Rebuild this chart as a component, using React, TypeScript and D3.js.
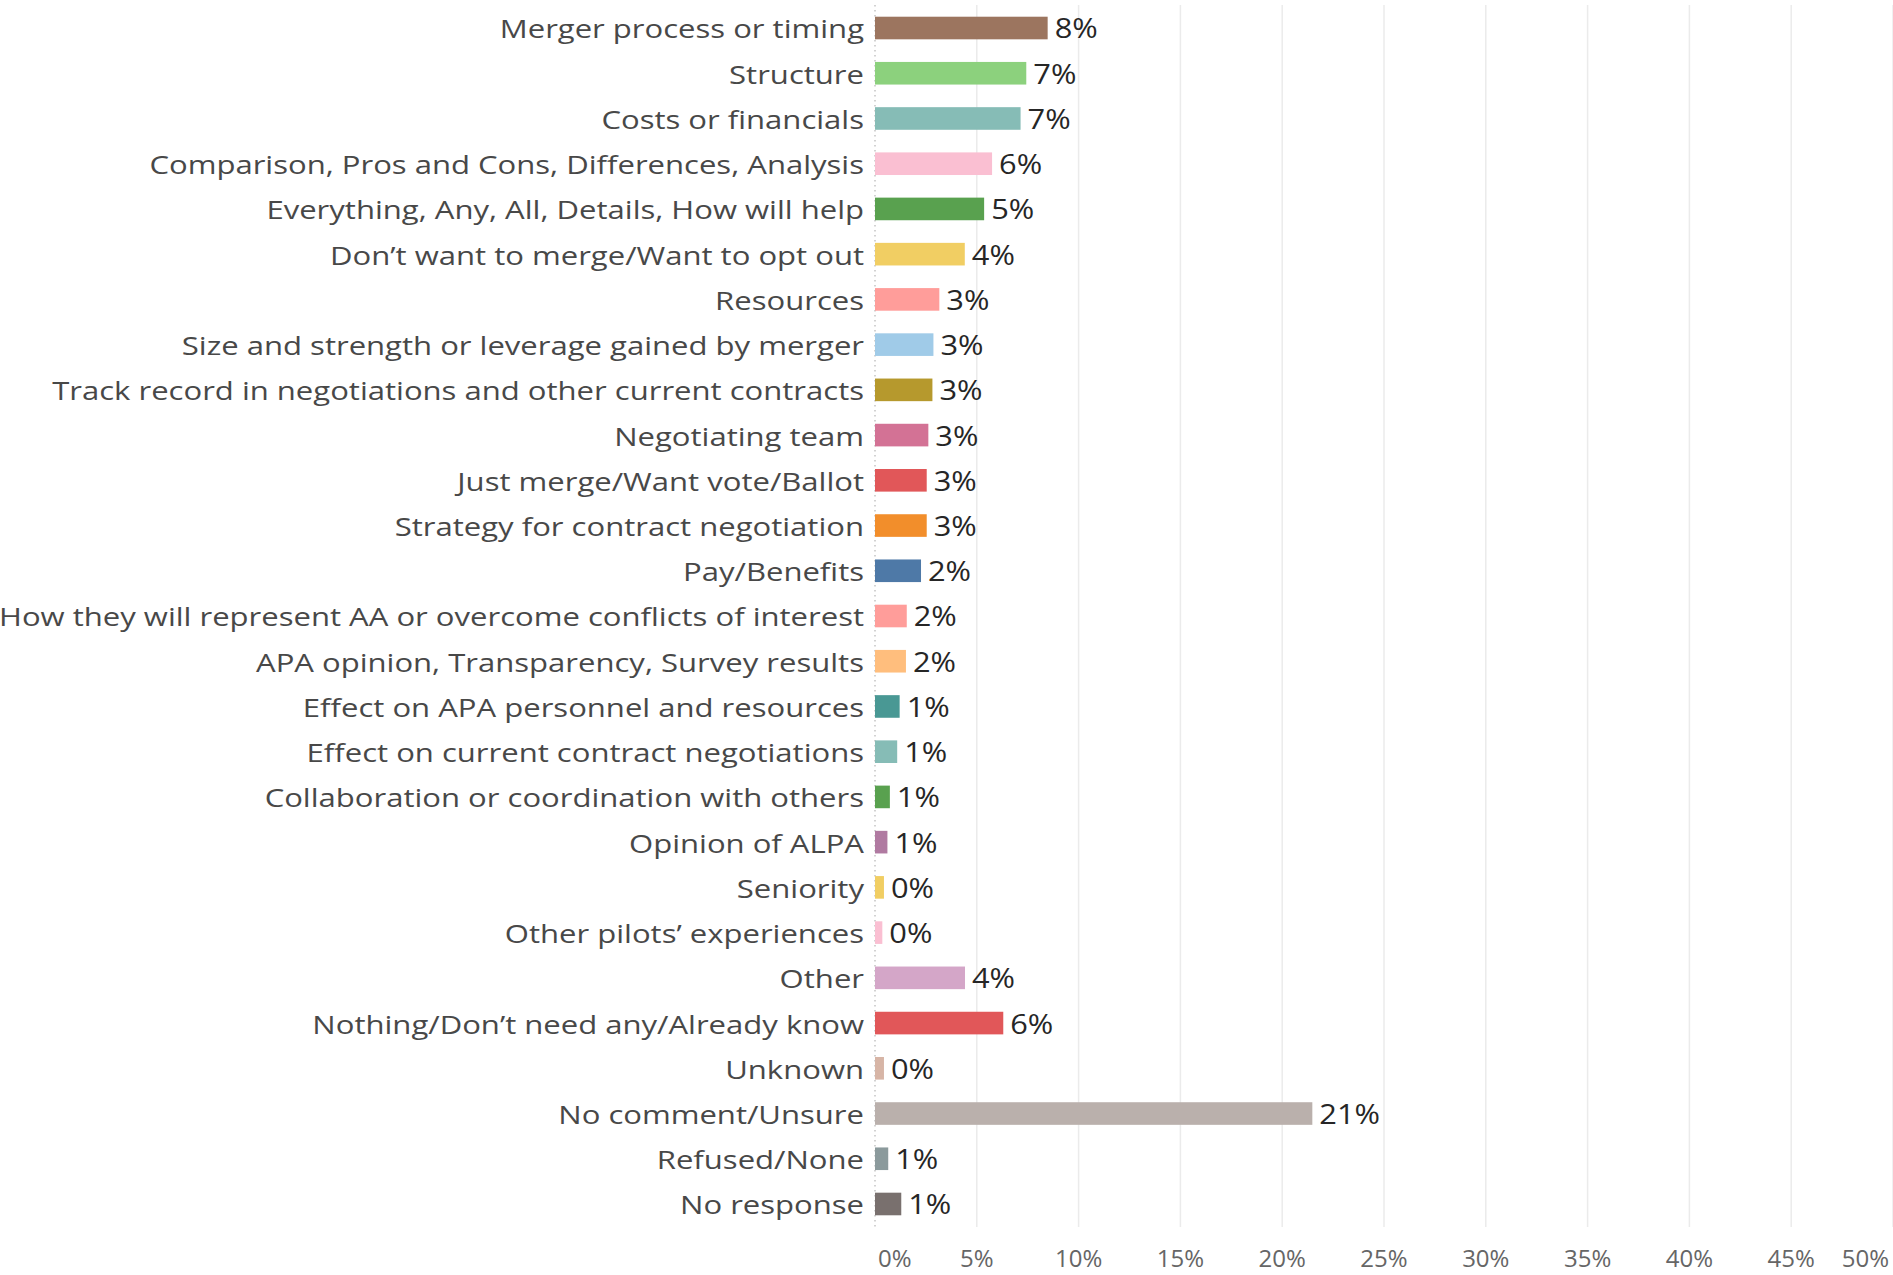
import React, { useEffect } from "react";
import * as d3 from "d3";

const categories = [
  "Merger process or timing",
  "Structure",
  "Costs or financials",
  "Comparison, Pros and Cons, Differences, Analysis",
  "Everything, Any, All, Details, How will help",
  "Don\u2019t want to merge/Want to opt out",
  "Resources",
  "Size and strength or leverage gained by merger",
  "Track record in negotiations and other current contracts",
  "Negotiating team",
  "Just merge/Want vote/Ballot",
  "Strategy for contract negotiation",
  "Pay/Benefits",
  "How they will represent AA or overcome conflicts of interest",
  "APA opinion, Transparency, Survey results",
  "Effect on APA personnel and resources",
  "Effect on current contract negotiations",
  "Collaboration or coordination with others",
  "Opinion of ALPA",
  "Seniority",
  "Other pilots\u2019 experiences",
  "Other",
  "Nothing/Don\u2019t need any/Already know",
  "Unknown",
  "No comment/Unsure",
  "Refused/None",
  "No response",
];

// percent values
const values = [
  8.48, 7.43, 7.15, 5.75, 5.36, 4.41, 3.16, 2.87, 2.82, 2.62, 2.54, 2.54, 2.26,
  1.56, 1.52, 1.21, 1.09, 0.73, 0.61, 0.44, 0.36, 4.42, 6.3, 0.44, 21.48, 0.65,
  1.29,
];

const colors = [
  "#9c755f", "#8cd17d", "#86bcb6", "#fabfd2", "#59a14f", "#f1ce63", "#ff9d9a",
  "#a0cbe8", "#b6992d", "#d37295", "#e15759", "#f28e2b", "#4e79a7", "#ff9d9a",
  "#ffbe7d", "#499894", "#86bcb6", "#59a14f", "#b07aa1", "#f1ce63", "#fabfd2",
  "#d4a6c8", "#e15759", "#d7b5a6", "#bab0ac", "#8b9a9c", "#79706e",
];

const ticks = [0, 5, 10, 15, 20, 25, 30, 35, 40, 45, 50];

const W = 1893;
const H = 1275;

export default function App() {
  useEffect(() => {
    document.body.style.margin = "0";
  }, []);

  const x = d3.scaleLinear().domain([0, 50]).range([875, 1893]);
  const y = d3
    .scaleBand<string>()
    .domain(categories)
    .range([5.4, 1226.6])
    .paddingInner(0.5)
    .paddingOuter(0.25);

  const gridTop = 5;
  const gridBottom = 1227;
  const font = "'Open Sans', 'DejaVu Sans', sans-serif";

  return (
    <svg
      width={W}
      height={H}
      style={{ display: "block", position: "absolute", left: 0, top: 0 }}
      fontFamily={font}
    >
      <rect x={0} y={0} width={W} height={H} fill="#ffffff" />
      {ticks.slice(1).map((t) => (
        <line
          key={"g" + t}
          x1={x(t)}
          x2={x(t)}
          y1={gridTop}
          y2={gridBottom}
          stroke="#ebebeb"
          strokeWidth={1.5}
        />
      ))}
      <line
        x1={x(0)}
        x2={x(0)}
        y1={gridTop}
        y2={gridBottom}
        stroke="#b5b5b5"
        strokeWidth={1.2}
        strokeDasharray="1.5,3.5"
      />
      {categories.map((c, i) => {
        const yc = (y(c) as number) + y.bandwidth() / 2;
        return (
          <g key={c}>
            <rect
              x={x(0)}
              y={y(c)}
              width={Math.max(0, x(values[i]) - x(0))}
              height={y.bandwidth()}
              fill={colors[i]}
            />
            <text
              transform={`translate(864,${yc}) scale(1.195,1)`}
              textAnchor="end"
              dominantBaseline="central"
              fontSize={26}
              fill="#484848"
            >
              {c}
            </text>
            <text
              transform={`translate(${x(values[i]) + 7},${yc}) scale(1.1,1)`}
              dominantBaseline="central"
              fontSize={28}
              fill="#262626"
            >
              {Math.round(values[i]) + "%"}
            </text>
          </g>
        );
      })}
      {ticks.map((t, i) => {
        let anchor = "middle";
        let tx = x(t);
        if (i === 0) {
          anchor = "start";
          tx = x(t) + 3;
        } else if (i === ticks.length - 1) {
          anchor = "end";
          tx = x(t) - 4;
        }
        return (
          <text
            key={"t" + t}
            x={tx}
            y={1257}
            textAnchor={anchor}
            dominantBaseline="central"
            fontSize={24}
            fill="#666666"
          >
            {t + "%"}
          </text>
        );
      })}
    </svg>
  );
}
